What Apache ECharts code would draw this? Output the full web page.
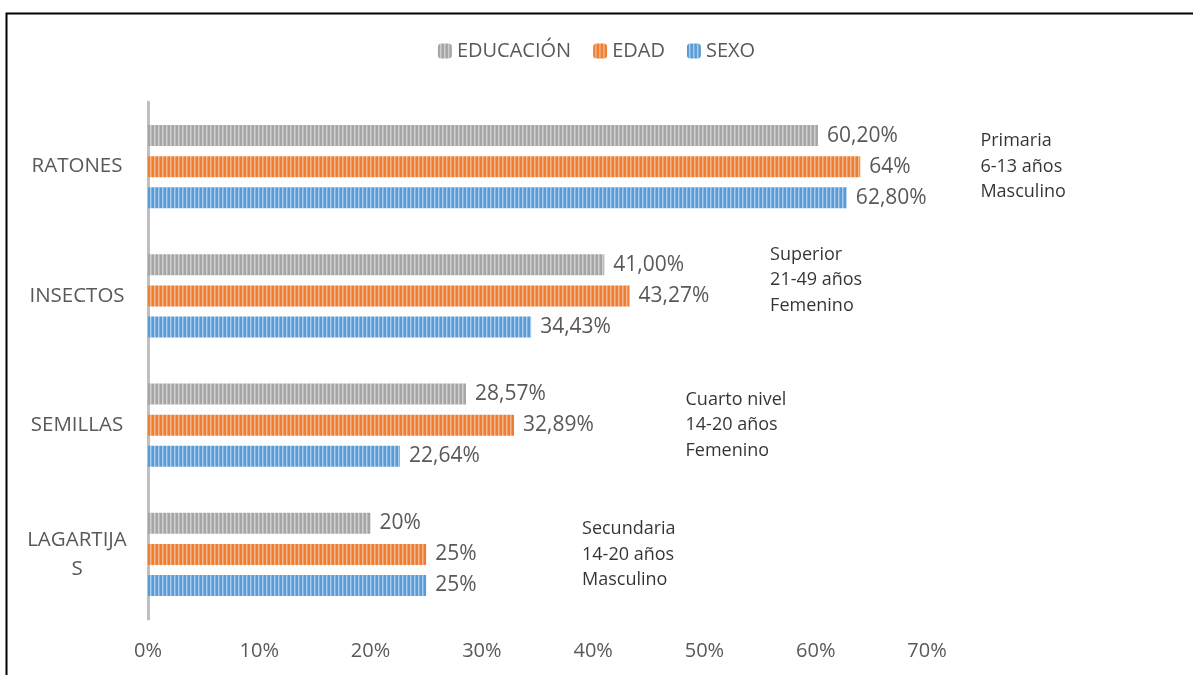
<!DOCTYPE html>
<html>
<head>
<meta charset="utf-8">
<script src="https://cdn.jsdelivr.net/npm/echarts@6/dist/echarts.min.js"></script>
<style>
  html, body { margin: 0; padding: 0; background: #fff; }
  #chart { width: 1193px; height: 675px; }
</style>
</head>
<body>
<div id="chart"></div>
<script>
// categorías (de arriba hacia abajo)
const categorias = ['RATONES', 'INSECTOS', 'SEMILLAS', 'LAGARTIJAS']
const nombresSeries = ['EDUCACIÓN', 'EDAD', 'SEXO']
// valores en %
const educacion = [60.2, 41.0, 28.57, 20]
const edad = [64, 43.27, 32.89, 25]
const sexo = [62.8, 34.43, 22.64, 25]
// etiquetas tal como aparecen
const etiquetasEducacion = ['60,20%', '41,00%', '28,57%', '20%']
const etiquetasEdad = ['64%', '43,27%', '32,89%', '25%']
const etiquetasSexo = ['62,80%', '34,43%', '22,64%', '25%']
// notas a la derecha de cada grupo
const notas = [
  'Primaria\n6-13 años\nMasculino',
  'Superior\n21-49 años\nFemenino',
  'Cuarto nivel\n14-20 años\nFemenino',
  'Secundaria\n14-20 años\nMasculino'
]
const notasX = [74.8, 55.9, 48.3, 39.0]

// patrón de rayas verticales (como en Excel)
function rayas(base, claro) {
  const c = document.createElement('canvas')
  c.width = 4
  c.height = 4
  const ctx = c.getContext('2d')
  ctx.fillStyle = base
  ctx.fillRect(0, 0, 4, 4)
  ctx.fillStyle = claro
  ctx.fillRect(2, 0, 1.5, 4)
  return { image: c, repeat: 'repeat' }
}

const colores = [
  rayas('#a5a5a5', '#d0d0d0'),
  rayas('#ed7d31', '#f6b88e'),
  rayas('#5b9bd5', '#a9cbec')
]

const myChart = echarts.init(document.getElementById('chart'))

function serieBarra(nombre, valores, etiquetas, color) {
  return {
    name: nombre,
    type: 'bar',
    barWidth: 21,
    barGap: '48%',
    itemStyle: { color: color },
    label: {
      show: true,
      position: 'right',
      distance: 9,
      color: '#595959',
      fontSize: 21,
      fontFamily: 'Open Sans',
      formatter: p => etiquetas[p.dataIndex]
    },
    data: valores
  }
}

const option = {
  animation: false,
  backgroundColor: '#fff',
  textStyle: { fontFamily: 'Open Sans' },
  legend: {
    top: 36,
    left: 'center',
    itemWidth: 14,
    itemHeight: 15,
    itemGap: 22,
    textStyle: { color: '#595959', fontSize: 20, fontFamily: 'Open Sans' },
    data: nombresSeries
  },
  grid: { left: 148, right: 266, top: 102, bottom: 56 },
  xAxis: {
    type: 'value',
    min: 0,
    max: 70,
    interval: 10,
    axisLine: { show: false },
    axisTick: { show: false },
    splitLine: { show: false },
    axisLabel: {
      color: '#595959',
      fontSize: 20,
      margin: 22,
      formatter: v => v + '%'
    }
  },
  yAxis: {
    type: 'category',
    inverse: true,
    data: categorias,
    axisLine: { show: true, lineStyle: { color: '#bfbfbf', width: 3 } },
    axisTick: { show: false },
    axisLabel: {
      color: '#595959',
      fontSize: 20.5,
      margin: 71,
      align: 'center',
      lineHeight: 29,
      formatter: v => v === 'LAGARTIJAS' ? 'LAGARTIJA\nS' : v
    }
  },
  series: [
    serieBarra(nombresSeries[0], educacion, etiquetasEducacion, colores[0]),
    serieBarra(nombresSeries[1], edad, etiquetasEdad, colores[1]),
    serieBarra(nombresSeries[2], sexo, etiquetasSexo, colores[2]),
    {
      type: 'scatter',
      symbolSize: 0,
      silent: true,
      clip: false,
      label: {
        show: true,
        position: 'right',
        distance: 0,
        color: '#000',
        fontSize: 18,
        fontFamily: 'Open Sans',
        lineHeight: 25.5,
        formatter: p => notas[p.dataIndex]
      },
      data: notasX.map((x, i) => ({
        value: [x, categorias[i]],
        label: i === 1 ? { offset: [0, -16] } : undefined
      }))
    }
  ],
  graphic: [
    {
      type: 'rect',
      left: 4,
      top: 11,
      shape: { width: 1300, height: 800 },
      style: { fill: 'none', stroke: '#000', lineWidth: 2 },
      silent: true
    }
  ]
}

myChart.setOption(option)
</script>
</body>
</html>
